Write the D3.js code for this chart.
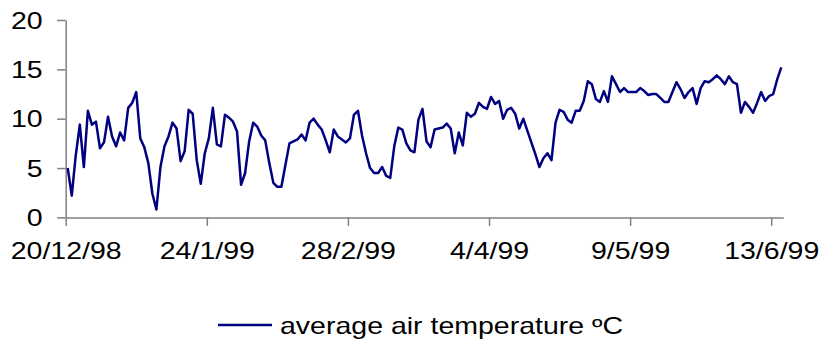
<!DOCTYPE html>
<html>
<head>
<meta charset="utf-8">
<script src="https://cdn.jsdelivr.net/npm/d3@7"></script>
<style>
  html, body { margin: 0; padding: 0; background: #fff; }
  svg { display: block; }
  text { font-family: "Liberation Sans", Arial, sans-serif; fill: #000; }
</style>
</head>
<body>
<svg id="chart" width="820" height="344"></svg>
<script>
// Daily average air temperature (ºC), one value per day starting 20/12/98
const startDate = "1998-12-20";
const temperature = [
  5.0, 2.2, 6.3, 9.4, 5.1, 10.8, 9.4, 9.7, 7.0, 7.6,
  10.2, 8.2, 7.2, 8.6, 7.8, 11.1, 11.6, 12.7, 8.0, 7.1,
  5.5, 2.4, 0.8, 5.1, 7.2, 8.2, 9.6, 9.0, 5.7, 6.7,
  10.9, 10.5, 5.8, 3.4, 6.5, 8.0, 11.1, 7.4, 7.2, 10.4,
  10.1, 9.7, 8.7, 3.3, 4.5, 7.7, 9.6, 9.2, 8.3, 7.8,
  5.5, 3.5, 3.1, 3.1, 5.3, 7.5, 7.7, 7.9, 8.4, 7.8,
  9.6, 10.0, 9.4, 8.9, 7.8, 6.6, 8.9, 8.2, 7.9, 7.6,
  8.0, 10.4, 10.8, 8.3, 6.5, 5.0, 4.5, 4.5, 5.1, 4.2,
  4.0, 7.2, 9.1, 8.9, 7.5, 6.8, 6.6, 9.9, 11.0, 7.7,
  7.1, 8.9, 9.0, 9.1, 9.5, 9.0, 6.5, 8.6, 7.3, 10.6,
  10.2, 10.5, 11.6, 11.2, 11.0, 12.2, 11.5, 11.8, 10.0, 10.9,
  11.1, 10.5, 9.0, 10.0, 8.8, 7.6, 6.4, 5.1, 6.0, 6.5,
  5.8, 9.6, 10.9, 10.7, 9.9, 9.6, 10.8, 10.8, 11.8, 13.8,
  13.5, 12.0, 11.7, 12.8, 11.7, 14.3, 13.5, 12.7, 13.1, 12.7,
  12.7, 12.7, 13.1, 12.8, 12.4, 12.5, 12.5, 12.1, 11.7, 11.7,
  12.7, 13.7, 13.0, 12.1, 12.7, 13.1, 11.5, 13.1, 13.8, 13.7,
  14.0, 14.4, 14.0, 13.5, 14.3, 13.7, 13.5, 10.6, 11.7, 11.2,
  10.6, 11.6, 12.7, 11.8, 12.3, 12.5, 14.0, 15.2
];
const xTickLabels = ["20/12/98", "24/1/99", "28/2/99", "4/4/99", "9/5/99", "13/6/99"];
const yTicks = [0, 5, 10, 15, 20];
const seriesName = "average air temperature ºC";

const parseLabel = d3.utcParse("%d/%m/%y");
const start = d3.utcParse("%Y-%m-%d")(startDate);
const data = temperature.map((v, i) => ({ date: d3.utcDay.offset(start, i), value: v }));
const end = d3.utcDay.offset(start, temperature.length);

const svg = d3.select("#chart");
const plot = { left: 65.7, right: 783.3, top: 20, bottom: 217.4 };
const fontSize = "23px";
const stretch = 1.24;      // horizontal text stretch
const axisColor = "#808080";
const lineColor = "#000080";

const x = d3.scaleUtc().domain([start, end]).range([plot.left, plot.right]);
const y = d3.scaleLinear().domain([0, 20]).range([plot.bottom, plot.top]);

// each day sits in the middle of its own slot on the date axis
const mid = d => new Date(+d + 12 * 3600 * 1000);

// y axis
const gy = svg.append("g")
  .attr("transform", `translate(${plot.left},0)`)
  .call(d3.axisLeft(y).tickValues(yTicks).tickSize(8.5).tickSizeOuter(0));
gy.select(".domain").attr("stroke", axisColor).attr("stroke-width", 1.5);
gy.selectAll(".tick line").attr("stroke", axisColor).attr("stroke-width", 1.5);
gy.selectAll(".tick text")
  .attr("x", -23 / stretch)
  .attr("dy", "0.35em")
  .attr("transform", `scale(${stretch},1)`)
  .style("font-size", fontSize)
  .style("font-family", "'Liberation Sans', Arial, sans-serif")
  .attr("fill", "#000");

// x axis
const gx = svg.append("g")
  .attr("transform", `translate(0,${plot.bottom})`)
  .call(d3.axisBottom(x)
    .tickValues(xTickLabels.map(parseLabel))
    .tickFormat((d, i) => xTickLabels[i])
    .tickSize(8.5).tickSizeOuter(0));
gx.select(".domain").attr("stroke", axisColor).attr("stroke-width", 1.5);
gx.selectAll(".tick line").attr("stroke", axisColor).attr("stroke-width", 1.5);
gx.selectAll(".tick text")
  .attr("x", 0)
  .attr("y", 42)
  .attr("dy", null)
  .style("font-size", fontSize)
  .style("font-family", "'Liberation Sans', Arial, sans-serif")
  .attr("fill", "#000")
  .attr("transform", `scale(${stretch},1)`);

// temperature line
const line = d3.line()
  .x(d => x(mid(d.date)))
  .y(d => y(d.value));

svg.append("path")
  .datum(data)
  .attr("fill", "none")
  .attr("stroke", lineColor)
  .attr("stroke-width", 2.5)
  .attr("stroke-linejoin", "round")
  .attr("d", line);

// legend
const legend = svg.append("g").attr("transform", "translate(218,325)");
legend.append("line")
  .attr("x1", 0).attr("x2", 54).attr("y1", 0).attr("y2", 0)
  .attr("stroke", lineColor).attr("stroke-width", 2.5);
legend.append("text")
  .attr("transform", `translate(62,8.5) scale(${stretch},1)`)
  .style("font-size", fontSize)
  .text(seriesName);
</script>
</body>
</html>
